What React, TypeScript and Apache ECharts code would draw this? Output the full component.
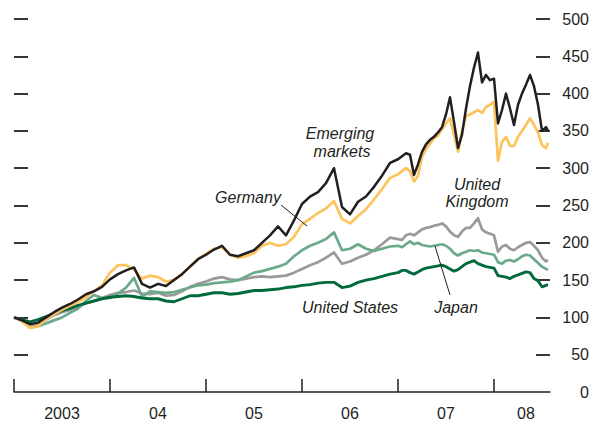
import React, { useEffect, useRef } from "react";
import * as echarts from "echarts";

// months since January 2003 (January 2003 = 0)
const months = [
  0, 1, 2, 3, 4, 5, 6, 7, 8, 9, 10, 11, 12, 13, 14, 15, 16, 17, 18, 19, 20, 21, 22, 23, 24,
  25, 26, 27, 28, 29, 30, 31, 32, 33, 34, 35, 36, 37, 38, 39, 40, 41, 42, 43, 44, 45, 46, 47, 48,
  48.5, 49, 49.5, 50, 50.5, 51, 51.5, 52, 52.5, 53, 53.5, 54, 54.5, 55, 55.5, 56, 56.5, 57, 57.5,
  58, 58.5, 59, 59.5, 60, 60.5, 61, 61.5, 62, 62.5, 63, 63.5, 64, 64.5, 65, 65.5, 66, 66.5, 66.75,
];

const emergingMarkets = [
  100, 96, 91, 93, 100, 107, 113, 118, 124, 131, 135, 141, 151, 158, 163, 167, 145, 140, 145, 142,
  150, 158, 168, 178, 184, 191, 196, 184, 182, 186, 190, 200, 210, 222, 210, 230, 252, 262, 268,
  280, 300, 248, 238, 255, 262, 275, 290, 307, 312,
  316, 320, 318, 291, 305, 322, 332, 338, 342, 348, 355, 372, 395, 362, 327, 345, 380, 410, 435,
  455, 415, 425, 418, 420, 360, 378, 400, 380, 358, 385, 400, 412, 425, 410, 385, 350, 355, 350,
];

const germany = [
  100, 95, 86, 88, 98, 104, 110, 116, 121, 127, 135, 143, 160, 170, 170, 164, 152, 156, 154, 148,
  150, 158, 168, 178, 185, 192, 194, 184, 180, 182, 186, 196, 200, 196, 198, 208, 225, 232, 240,
  246, 256, 232, 226, 236, 245, 258, 272, 287, 292,
  296, 300, 296, 282, 290, 315, 326, 333, 340, 344, 352, 360, 367, 345, 322, 350, 370, 372, 375,
  378, 374, 382, 385, 389, 310, 335, 342, 330, 330, 342, 350, 358, 367, 358, 348, 331, 327, 334,
];

const unitedKingdom = [
  100, 96, 89, 92, 97, 103, 107, 110, 114, 119, 122, 126, 130, 133, 134, 136, 132, 131, 133, 129,
  130, 135, 141, 145, 148, 152, 154, 151, 150, 152, 154, 155, 154, 155, 156, 160, 165, 170, 174,
  180, 187, 172, 175, 180, 184, 190, 198, 207, 205,
  204, 210, 212, 210, 214, 218, 220, 221, 223, 224, 226, 222, 215, 210, 208, 215, 220, 220, 226,
  233, 218, 214, 212, 210, 188, 195, 197, 192, 190, 194, 197, 200, 201, 196, 190, 180, 175, 177,
];

const japan = [
  100, 95, 87, 88, 92, 96, 100, 106, 112, 122, 130, 126, 126, 132, 140, 153, 128, 135, 134, 133,
  134, 137, 140, 143, 144, 146, 147, 148, 150, 155, 160, 162, 165, 168, 172, 182, 190, 196, 200,
  205, 214, 190, 192, 198, 192, 189, 192, 195, 196,
  194, 198, 202, 198, 200, 197, 196, 195, 196, 197, 198, 196, 192, 186, 183, 186, 188, 190, 189,
  190, 187, 186, 185, 184, 174, 172, 176, 177, 175, 178, 182, 184, 183, 178, 173, 168, 165, 164,
];

const unitedStates = [
  100, 97, 94, 97, 101, 105, 109, 112, 116, 119, 122, 125, 127, 128, 129, 128, 126, 125, 125, 122,
  121, 125, 129, 129, 131, 133, 133, 131, 132, 134, 136, 136, 137, 138, 140, 141, 143, 144, 146,
  147, 147, 140, 142, 147, 150, 152, 155, 158, 160,
  163, 163, 160, 158, 161, 164, 166, 167, 168, 169, 170, 168, 165, 162, 164, 168, 172, 174, 176,
  172, 170, 168, 167, 166, 156, 155, 154, 152, 155, 157, 159, 161, 160, 152, 149, 141, 143, 144,
];

const yearStarts = [0, 12, 24, 36, 48, 60];
const yearLabelPositions = [6, 18, 30, 42, 54, 64];
const yearLabels = ["2003", "04", "05", "06", "07", "08"];
const yTickValues = [50, 100, 150, 200, 250, 300, 350, 400, 450, 500];

const FONT = "'Liberation Sans', Arial, Helvetica, sans-serif";
const INK = "#231f20";

function pairs(values: number[]) {
  return months.map((m, i) => [m, values[i]]);
}

export default function App() {
  const ref = useRef<HTMLDivElement>(null);

  useEffect(() => {
    if (!ref.current) return;
    const chart = echarts.init(ref.current, undefined, { renderer: "svg" });

    const yAxisCommon = {
      type: "value" as const,
      min: 0,
      max: 500,
      interval: 50,
      splitLine: { show: false },
      axisLine: { show: false },
      axisTick: {
        show: true,
        inside: true,
        length: 14,
        customValues: yTickValues,
        lineStyle: { color: INK, width: 1.8 },
      },
    };

    const lineSeries = (name: string, values: number[], color: string, width: number) => ({
      name,
      type: "line" as const,
      data: pairs(values),
      showSymbol: false,
      symbol: "none",
      lineStyle: { color, width, join: "round" },
      itemStyle: { color },
      emphasis: { disabled: true },
    });

    const italic = `italic 16px ${FONT}`;
    const label = (text: string, x: number, y: number) => ({
      type: "text",
      x,
      y,
      z: 100,
      style: {
        text,
        font: italic,
        fill: INK,
        textAlign: "center",
        textVerticalAlign: "middle",
      },
    });

    chart.setOption({
      animation: false,
      backgroundColor: "#ffffff",
      grid: { left: 14, right: 44, top: 19, bottom: 36, containLabel: false },
      xAxis: {
        type: "value",
        min: 0,
        max: 67,
        offset: 3,
        splitLine: { show: false },
        axisLine: { show: true, lineStyle: { color: INK, width: 1.5 } },
        axisTick: {
          show: true,
          inside: true,
          length: 13,
          customValues: yearStarts,
          lineStyle: { color: INK, width: 1.5 },
        },
        axisLabel: {
          customValues: yearLabelPositions,
          formatter: (v: number) => {
            const i = yearLabelPositions.indexOf(v);
            return i >= 0 ? yearLabels[i] : "";
          },
          margin: 10,
          color: INK,
          fontSize: 16,
          fontFamily: FONT,
        },
      },
      yAxis: [
        {
          ...yAxisCommon,
          position: "left",
          axisLabel: { show: false },
        },
        {
          ...yAxisCommon,
          position: "right",
          axisLabel: {
            show: true,
            align: "right",
            margin: 39,
            color: INK,
            fontSize: 16,
            fontFamily: FONT,
          },
        },
      ],
      series: [
        lineSeries("United Kingdom", unitedKingdom, "#9a9a9c", 2.7),
        lineSeries("Japan", japan, "#6aaa8b", 2.7),
        lineSeries("United States", unitedStates, "#006a3c", 2.9),
        lineSeries("Germany", germany, "#fdc35c", 2.7),
        lineSeries("Emerging markets", emergingMarkets, "#231f20", 2.5),
      ],
      graphic: [
        label("Emerging", 340, 133),
        label("markets", 342, 151),
        label("Germany", 248, 197),
        label("United", 477, 184),
        label("Kingdom", 477, 201),
        label("United States", 350, 307),
        label("Japan", 456, 307),
        {
          type: "line",
          z: 100,
          shape: { x1: 281, y1: 205, x2: 307, y2: 226 },
          style: { stroke: INK, lineWidth: 1 },
        },
        {
          type: "line",
          z: 100,
          shape: { x1: 435, y1: 246, x2: 450, y2: 295 },
          style: { stroke: INK, lineWidth: 1 },
        },
      ],
    });

    return () => chart.dispose();
  }, []);

  return (
    <div
      ref={ref}
      style={{ position: "absolute", left: 0, top: 0, width: 594, height: 428 }}
    />
  );
}
